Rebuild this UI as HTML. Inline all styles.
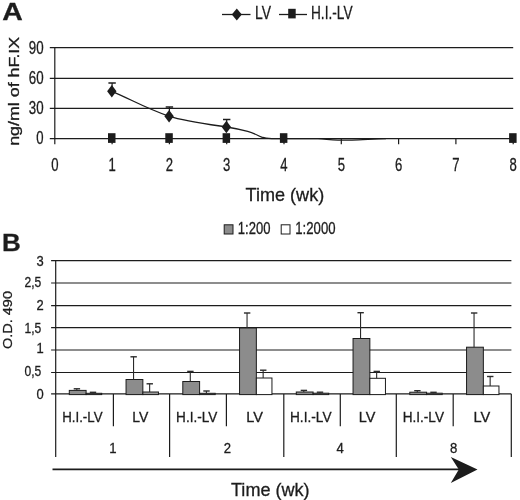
<!DOCTYPE html>
<html><head><meta charset="utf-8"><title>Figure</title>
<style>
html,body{margin:0;padding:0;background:#fff;}
svg{display:block;font-family:"Liberation Sans",Arial,sans-serif;fill:#1c1c1c;}
text{stroke:#1c1c1c;stroke-width:0.3px;}
</style></head><body>
<svg width="520" height="500" viewBox="0 0 520 500">
<rect x="0" y="0" width="520" height="500" fill="#ffffff"/>
<text x="2.3" y="20" font-size="24.5" text-anchor="start" font-weight="bold" textLength="20.5" lengthAdjust="spacingAndGlyphs" >A</text>
<line x1="222" y1="14.5" x2="250.5" y2="14.5" stroke="#1c1c1c" stroke-width="1.3"/>
<polygon points="236.8,8.5 241.8,14.5 236.8,20.5 231.8,14.5" fill="#1c1c1c"/>
<text x="255" y="18.7" font-size="18.5" text-anchor="start" textLength="16" lengthAdjust="spacingAndGlyphs" >LV</text>
<line x1="279" y1="14.5" x2="307" y2="14.5" stroke="#1c1c1c" stroke-width="1.3"/>
<rect x="288.2" y="8.8" width="7.5" height="9.6" fill="#1c1c1c"/>
<text x="311" y="18.7" font-size="18.5" text-anchor="start" textLength="41.5" lengthAdjust="spacingAndGlyphs" >H.I.-LV</text>
<line x1="49.8" y1="47.6" x2="513.2" y2="47.6" stroke="#1c1c1c" stroke-width="1.2"/>
<text x="43.6" y="53.8" font-size="17.6" text-anchor="end" textLength="14.8" lengthAdjust="spacingAndGlyphs" >90</text>
<line x1="49.8" y1="78.4" x2="513.2" y2="78.4" stroke="#1c1c1c" stroke-width="1.2"/>
<text x="43.6" y="83.6" font-size="17.6" text-anchor="end" textLength="14.8" lengthAdjust="spacingAndGlyphs" >60</text>
<line x1="49.8" y1="108.4" x2="513.2" y2="108.4" stroke="#1c1c1c" stroke-width="1.2"/>
<text x="43.6" y="113.9" font-size="17.6" text-anchor="end" textLength="14.8" lengthAdjust="spacingAndGlyphs" >30</text>
<line x1="49.8" y1="138.6" x2="513.2" y2="138.6" stroke="#1c1c1c" stroke-width="1.2"/>
<text x="43.6" y="144.3" font-size="17.6" text-anchor="end" textLength="7.3" lengthAdjust="spacingAndGlyphs" >0</text>
<line x1="54.8" y1="47.6" x2="54.8" y2="144.3" stroke="#1c1c1c" stroke-width="1.2"/>
<text x="54.8" y="171.0" font-size="17.6" text-anchor="middle" textLength="7.3" lengthAdjust="spacingAndGlyphs" >0</text>
<line x1="112.1" y1="138.6" x2="112.1" y2="144.3" stroke="#1c1c1c" stroke-width="1.2"/>
<text x="112.1" y="171.0" font-size="17.6" text-anchor="middle" textLength="7.3" lengthAdjust="spacingAndGlyphs" >1</text>
<line x1="169.4" y1="138.6" x2="169.4" y2="144.3" stroke="#1c1c1c" stroke-width="1.2"/>
<text x="169.4" y="171.0" font-size="17.6" text-anchor="middle" textLength="7.3" lengthAdjust="spacingAndGlyphs" >2</text>
<line x1="226.7" y1="138.6" x2="226.7" y2="144.3" stroke="#1c1c1c" stroke-width="1.2"/>
<text x="226.7" y="171.0" font-size="17.6" text-anchor="middle" textLength="7.3" lengthAdjust="spacingAndGlyphs" >3</text>
<line x1="284.0" y1="138.6" x2="284.0" y2="144.3" stroke="#1c1c1c" stroke-width="1.2"/>
<text x="284.0" y="171.0" font-size="17.6" text-anchor="middle" textLength="7.3" lengthAdjust="spacingAndGlyphs" >4</text>
<line x1="341.3" y1="138.6" x2="341.3" y2="144.3" stroke="#1c1c1c" stroke-width="1.2"/>
<text x="341.3" y="171.0" font-size="17.6" text-anchor="middle" textLength="7.3" lengthAdjust="spacingAndGlyphs" >5</text>
<line x1="398.6" y1="138.6" x2="398.6" y2="144.3" stroke="#1c1c1c" stroke-width="1.2"/>
<text x="398.6" y="171.0" font-size="17.6" text-anchor="middle" textLength="7.3" lengthAdjust="spacingAndGlyphs" >6</text>
<line x1="455.90000000000003" y1="138.6" x2="455.90000000000003" y2="144.3" stroke="#1c1c1c" stroke-width="1.2"/>
<text x="455.90000000000003" y="171.0" font-size="17.6" text-anchor="middle" textLength="7.3" lengthAdjust="spacingAndGlyphs" >7</text>
<line x1="513.2" y1="138.6" x2="513.2" y2="144.3" stroke="#1c1c1c" stroke-width="1.2"/>
<text x="513.2" y="171.0" font-size="17.6" text-anchor="middle" textLength="7.3" lengthAdjust="spacingAndGlyphs" >8</text>
<text x="19.1" y="145.8" font-size="14.6" text-anchor="start" textLength="109" lengthAdjust="spacingAndGlyphs" transform="rotate(-90 19.1 145.8)" >ng/ml of hF.IX</text>
<text x="245.6" y="201.3" font-size="18.6" text-anchor="start" textLength="78.6" lengthAdjust="spacingAndGlyphs" >Time (wk)</text>
<path d="M112.1,91.3 C132.1,100 147.4,109 169.4,116.3 C184.4,121 206.7,124 226.7,127 C234.7,128.3 241.7,129.8 247.7,131.4 C253.7,133 257.7,135.5 261.7,137.2 C264.7,138.3 267.7,138.6 271.7,138.6 L318,138.6 C326,139.0 330,140.1 338,140.1 L352,140.1 C362,140.1 372,138.9 386,138.6" fill="none" stroke="#1c1c1c" stroke-width="1.3"/>
<line x1="112.1" y1="91.3" x2="112.1" y2="83.0" stroke="#1c1c1c" stroke-width="1.2"/>
<line x1="108.39999999999999" y1="83.0" x2="115.8" y2="83.0" stroke="#1c1c1c" stroke-width="1.5"/>
<polygon points="111.8,85.0 116.5,91.3 111.8,97.6 107.1,91.3" fill="#1c1c1c"/>
<line x1="169.4" y1="116.3" x2="169.4" y2="107.0" stroke="#1c1c1c" stroke-width="1.2"/>
<line x1="165.70000000000002" y1="107.0" x2="173.1" y2="107.0" stroke="#1c1c1c" stroke-width="1.5"/>
<polygon points="169.1,110.0 173.8,116.3 169.1,122.6 164.4,116.3" fill="#1c1c1c"/>
<line x1="226.7" y1="127.0" x2="226.7" y2="119.5" stroke="#1c1c1c" stroke-width="1.2"/>
<line x1="223.0" y1="119.5" x2="230.39999999999998" y2="119.5" stroke="#1c1c1c" stroke-width="1.5"/>
<polygon points="226.39999999999998,120.7 231.1,127.0 226.39999999999998,133.3 221.7,127.0" fill="#1c1c1c"/>
<rect x="108.00" y="133.2" width="7.5" height="9.7" fill="#1c1c1c"/>
<rect x="165.30" y="133.2" width="7.5" height="9.7" fill="#1c1c1c"/>
<rect x="222.60" y="133.2" width="7.5" height="9.7" fill="#1c1c1c"/>
<rect x="279.90" y="133.2" width="7.5" height="9.7" fill="#1c1c1c"/>
<rect x="509.10" y="133.2" width="7.5" height="9.7" fill="#1c1c1c"/>
<text x="2.0" y="250.6" font-size="24.5" text-anchor="start" font-weight="bold" textLength="18.8" lengthAdjust="spacingAndGlyphs" >B</text>
<rect x="224.2" y="224.8" width="8.8" height="9.2" fill="#8c8c8c" stroke="#1c1c1c" stroke-width="1"/>
<text x="237.8" y="233.9" font-size="16" text-anchor="start" textLength="32.6" lengthAdjust="spacingAndGlyphs" >1:200</text>
<rect x="281.2" y="224.8" width="8.8" height="9.2" fill="#fff" stroke="#1c1c1c" stroke-width="1"/>
<text x="295.3" y="233.9" font-size="16" text-anchor="start" textLength="40.2" lengthAdjust="spacingAndGlyphs" >1:2000</text>
<line x1="51.1" y1="393.8" x2="511.4" y2="393.8" stroke="#1c1c1c" stroke-width="1.2"/>
<text x="43.7" y="399.0" font-size="15" text-anchor="end" textLength="7.2" lengthAdjust="spacingAndGlyphs" >0</text>
<line x1="51.1" y1="372.5" x2="511.4" y2="372.5" stroke="#1c1c1c" stroke-width="1.2"/>
<text x="41.3" y="376.4" font-size="15" text-anchor="end" textLength="16.8" lengthAdjust="spacingAndGlyphs" >0,5</text>
<line x1="51.1" y1="350.0" x2="511.4" y2="350.0" stroke="#1c1c1c" stroke-width="1.2"/>
<text x="43.7" y="353.2" font-size="15" text-anchor="end" textLength="7.2" lengthAdjust="spacingAndGlyphs" >1</text>
<line x1="51.1" y1="327.6" x2="511.4" y2="327.6" stroke="#1c1c1c" stroke-width="1.2"/>
<text x="41.3" y="332.6" font-size="15" text-anchor="end" textLength="16.8" lengthAdjust="spacingAndGlyphs" >1,5</text>
<line x1="51.1" y1="305.7" x2="511.4" y2="305.7" stroke="#1c1c1c" stroke-width="1.2"/>
<text x="43.7" y="309.9" font-size="15" text-anchor="end" textLength="7.2" lengthAdjust="spacingAndGlyphs" >2</text>
<line x1="51.1" y1="283.0" x2="511.4" y2="283.0" stroke="#1c1c1c" stroke-width="1.2"/>
<text x="41.3" y="286.5" font-size="15" text-anchor="end" textLength="16.8" lengthAdjust="spacingAndGlyphs" >2,5</text>
<line x1="51.1" y1="260.6" x2="511.4" y2="260.6" stroke="#1c1c1c" stroke-width="1.2"/>
<text x="43.7" y="266.0" font-size="15" text-anchor="end" textLength="7.2" lengthAdjust="spacingAndGlyphs" >3</text>
<line x1="55.7" y1="260.8" x2="55.7" y2="457" stroke="#1c1c1c" stroke-width="1.2"/>
<line x1="113.4" y1="393.9" x2="113.4" y2="426.3" stroke="#1c1c1c" stroke-width="1.2"/>
<line x1="169.6" y1="393.9" x2="169.6" y2="457" stroke="#1c1c1c" stroke-width="1.2"/>
<line x1="226.4" y1="393.9" x2="226.4" y2="426.3" stroke="#1c1c1c" stroke-width="1.2"/>
<line x1="283.8" y1="393.9" x2="283.8" y2="457" stroke="#1c1c1c" stroke-width="1.2"/>
<line x1="340.3" y1="393.9" x2="340.3" y2="426.3" stroke="#1c1c1c" stroke-width="1.2"/>
<line x1="396.3" y1="393.9" x2="396.3" y2="457" stroke="#1c1c1c" stroke-width="1.2"/>
<line x1="453.2" y1="393.9" x2="453.2" y2="426.3" stroke="#1c1c1c" stroke-width="1.2"/>
<line x1="511.3" y1="393.9" x2="511.3" y2="457" stroke="#1c1c1c" stroke-width="1.2"/>
<text x="62.2" y="421.8" font-size="14.6" text-anchor="start" textLength="40.3" lengthAdjust="spacingAndGlyphs" >H.I.-LV</text>
<text x="176.1" y="421.8" font-size="14.6" text-anchor="start" textLength="41.2" lengthAdjust="spacingAndGlyphs" >H.I.-LV</text>
<text x="290.0" y="421.8" font-size="14.6" text-anchor="start" textLength="41.5" lengthAdjust="spacingAndGlyphs" >H.I.-LV</text>
<text x="402.7" y="421.8" font-size="14.6" text-anchor="start" textLength="41.3" lengthAdjust="spacingAndGlyphs" >H.I.-LV</text>
<text x="132.2" y="421.8" font-size="14.6" text-anchor="start" textLength="16.1" lengthAdjust="spacingAndGlyphs" >LV</text>
<text x="246.2" y="421.8" font-size="14.6" text-anchor="start" textLength="16.7" lengthAdjust="spacingAndGlyphs" >LV</text>
<text x="358.7" y="421.8" font-size="14.6" text-anchor="start" textLength="16.6" lengthAdjust="spacingAndGlyphs" >LV</text>
<text x="473.5" y="421.8" font-size="14.6" text-anchor="start" textLength="16.8" lengthAdjust="spacingAndGlyphs" >LV</text>
<text x="112.8" y="453.2" font-size="15" text-anchor="middle" textLength="7.3" lengthAdjust="spacingAndGlyphs" >1</text>
<text x="227.4" y="453.2" font-size="15" text-anchor="middle" textLength="7.3" lengthAdjust="spacingAndGlyphs" >2</text>
<text x="340.1" y="453.2" font-size="15" text-anchor="middle" textLength="7.3" lengthAdjust="spacingAndGlyphs" >4</text>
<text x="453.7" y="453.2" font-size="15" text-anchor="middle" textLength="7.3" lengthAdjust="spacingAndGlyphs" >8</text>
<text x="11.6" y="349" font-size="13.5" text-anchor="start" textLength="58" lengthAdjust="spacingAndGlyphs" transform="rotate(-90 11.6 349)" >O.D. 490</text>
<rect x="69.30" y="390.4" width="16.8" height="4.20" fill="#8c8c8c" stroke="#1c1c1c" stroke-width="1"/>
<rect x="86.10" y="393.3" width="15.6" height="1.30" fill="#9a9a9a" stroke="#1c1c1c" stroke-width="1"/>
<line x1="76.80" y1="390.4" x2="76.80" y2="388.8" stroke="#2a2a2a" stroke-width="1.1"/>
<line x1="73.70" y1="388.8" x2="80.10" y2="388.8" stroke="#2a2a2a" stroke-width="1.4"/>
<line x1="92.90" y1="393.3" x2="92.90" y2="392.3" stroke="#2a2a2a" stroke-width="1.1"/>
<line x1="89.80" y1="392.3" x2="96.20" y2="392.3" stroke="#2a2a2a" stroke-width="1.4"/>
<rect x="126.05" y="379.5" width="16.8" height="15.10" fill="#8c8c8c" stroke="#1c1c1c" stroke-width="1"/>
<rect x="142.85" y="392.0" width="15.6" height="2.60" fill="#9a9a9a" stroke="#1c1c1c" stroke-width="1"/>
<line x1="133.55" y1="379.5" x2="133.55" y2="356.8" stroke="#2a2a2a" stroke-width="1.1"/>
<line x1="130.45" y1="356.8" x2="136.85" y2="356.8" stroke="#2a2a2a" stroke-width="1.4"/>
<line x1="149.65" y1="392.0" x2="149.65" y2="383.8" stroke="#2a2a2a" stroke-width="1.1"/>
<line x1="146.55" y1="383.8" x2="152.95" y2="383.8" stroke="#2a2a2a" stroke-width="1.4"/>
<rect x="182.80" y="381.5" width="16.8" height="13.10" fill="#8c8c8c" stroke="#1c1c1c" stroke-width="1"/>
<rect x="199.60" y="393.3" width="15.6" height="1.30" fill="#9a9a9a" stroke="#1c1c1c" stroke-width="1"/>
<line x1="190.30" y1="381.5" x2="190.30" y2="371.4" stroke="#2a2a2a" stroke-width="1.1"/>
<line x1="187.20" y1="371.4" x2="193.60" y2="371.4" stroke="#2a2a2a" stroke-width="1.4"/>
<line x1="206.40" y1="393.3" x2="206.40" y2="391.0" stroke="#2a2a2a" stroke-width="1.1"/>
<line x1="203.30" y1="391.0" x2="209.70" y2="391.0" stroke="#2a2a2a" stroke-width="1.4"/>
<rect x="239.55" y="328.0" width="16.8" height="66.60" fill="#8c8c8c" stroke="#1c1c1c" stroke-width="1"/>
<rect x="256.35" y="378.0" width="15.6" height="16.60" fill="#fff" stroke="#1c1c1c" stroke-width="1"/>
<line x1="247.05" y1="328.0" x2="247.05" y2="313.0" stroke="#2a2a2a" stroke-width="1.1"/>
<line x1="243.95" y1="313.0" x2="250.35" y2="313.0" stroke="#2a2a2a" stroke-width="1.4"/>
<line x1="263.15" y1="378.0" x2="263.15" y2="370.2" stroke="#2a2a2a" stroke-width="1.1"/>
<line x1="260.05" y1="370.2" x2="266.45" y2="370.2" stroke="#2a2a2a" stroke-width="1.4"/>
<rect x="296.30" y="392.0" width="16.8" height="2.60" fill="#8c8c8c" stroke="#1c1c1c" stroke-width="1"/>
<rect x="313.10" y="393.2" width="15.6" height="1.40" fill="#9a9a9a" stroke="#1c1c1c" stroke-width="1"/>
<line x1="303.80" y1="392.0" x2="303.80" y2="390.4" stroke="#2a2a2a" stroke-width="1.1"/>
<line x1="300.70" y1="390.4" x2="307.10" y2="390.4" stroke="#2a2a2a" stroke-width="1.4"/>
<line x1="319.90" y1="393.2" x2="319.90" y2="392.2" stroke="#2a2a2a" stroke-width="1.1"/>
<line x1="316.80" y1="392.2" x2="323.20" y2="392.2" stroke="#2a2a2a" stroke-width="1.4"/>
<rect x="353.05" y="338.5" width="16.8" height="56.10" fill="#8c8c8c" stroke="#1c1c1c" stroke-width="1"/>
<rect x="369.85" y="378.3" width="15.6" height="16.30" fill="#fff" stroke="#1c1c1c" stroke-width="1"/>
<line x1="360.55" y1="338.5" x2="360.55" y2="312.7" stroke="#2a2a2a" stroke-width="1.1"/>
<line x1="357.45" y1="312.7" x2="363.85" y2="312.7" stroke="#2a2a2a" stroke-width="1.4"/>
<line x1="376.65" y1="378.3" x2="376.65" y2="371.4" stroke="#2a2a2a" stroke-width="1.1"/>
<line x1="373.55" y1="371.4" x2="379.95" y2="371.4" stroke="#2a2a2a" stroke-width="1.4"/>
<rect x="409.80" y="392.2" width="16.8" height="2.40" fill="#8c8c8c" stroke="#1c1c1c" stroke-width="1"/>
<rect x="426.60" y="393.2" width="15.6" height="1.40" fill="#9a9a9a" stroke="#1c1c1c" stroke-width="1"/>
<line x1="417.30" y1="392.2" x2="417.30" y2="390.7" stroke="#2a2a2a" stroke-width="1.1"/>
<line x1="414.20" y1="390.7" x2="420.60" y2="390.7" stroke="#2a2a2a" stroke-width="1.4"/>
<line x1="433.40" y1="393.2" x2="433.40" y2="392.3" stroke="#2a2a2a" stroke-width="1.1"/>
<line x1="430.30" y1="392.3" x2="436.70" y2="392.3" stroke="#2a2a2a" stroke-width="1.4"/>
<rect x="466.55" y="347.2" width="16.8" height="47.40" fill="#8c8c8c" stroke="#1c1c1c" stroke-width="1"/>
<rect x="483.35" y="386.0" width="15.6" height="8.60" fill="#fff" stroke="#1c1c1c" stroke-width="1"/>
<line x1="474.05" y1="347.2" x2="474.05" y2="313.0" stroke="#2a2a2a" stroke-width="1.1"/>
<line x1="470.95" y1="313.0" x2="477.35" y2="313.0" stroke="#2a2a2a" stroke-width="1.4"/>
<line x1="490.15" y1="386.0" x2="490.15" y2="376.5" stroke="#2a2a2a" stroke-width="1.1"/>
<line x1="487.05" y1="376.5" x2="493.45" y2="376.5" stroke="#2a2a2a" stroke-width="1.4"/>
<line x1="52.5" y1="469.4" x2="460" y2="469.4" stroke="#1c1c1c" stroke-width="1.6"/>
<polygon points="477.5,469.5 450.8,457 458.8,469.5 450.8,483" fill="#1c1c1c"/>
<text x="231" y="495.7" font-size="18.6" text-anchor="start" textLength="78.6" lengthAdjust="spacingAndGlyphs" >Time (wk)</text>
</svg>
</body></html>
